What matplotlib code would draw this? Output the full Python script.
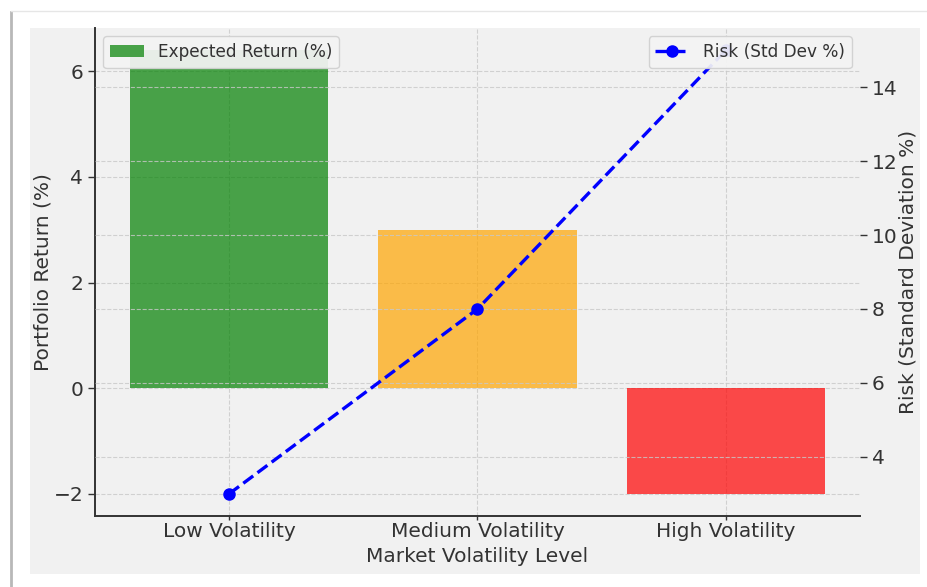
import matplotlib
matplotlib.use("Agg")
import matplotlib.pyplot as plt
from matplotlib.patches import Rectangle
from matplotlib.lines import Line2D

# Data
categories = ["Low Volatility", "Medium Volatility", "High Volatility"]
expected_return = [6.4, 3.0, -2.0]
risk_std = [3.0, 8.0, 15.0]
bar_colors = ["green", "orange", "red"]

W, H = 928, 587
fig = plt.figure(figsize=(W / 100, H / 100), dpi=100, facecolor="white")

# Panel background and frame edges
bg = "#f1f1f1"
fig.patches.append(Rectangle((30 / W, 1 - 574 / H), 890 / W, 546 / H,
                             transform=fig.transFigure, facecolor=bg,
                             edgecolor="none", zorder=-10))
fig.lines.append(Line2D([11 / W, 11 / W], [0, 1 - 12 / H], transform=fig.transFigure,
                        color="#b8b8b8", lw=2.0))
fig.lines.append(Line2D([11 / W, 1], [1 - 11 / H, 1 - 11 / H], transform=fig.transFigure,
                        color="#e6e6e6", lw=1.0))

ax1 = fig.add_axes([95 / W, 1 - 516 / H, 765 / W, 488 / H])
ax1.set_facecolor("none")

txt = "#333333"
fs = 14.5

x = list(range(len(categories)))
ax1.bar(x, expected_return, color=bar_colors, alpha=0.7, width=0.8,
        label="Expected Return (%)")
ax1.set_xticks(x)
ax1.set_xticklabels(categories)
ax1.set_xlabel("Market Volatility Level", fontsize=fs, color=txt, labelpad=5)
ax1.set_ylabel("Portfolio Return (%)", fontsize=fs, color=txt, labelpad=0.5)
ax1.grid(True, linestyle="--", color="#c8c8c8", linewidth=0.8, alpha=0.8)
ax1.set_axisbelow(True)

ax2 = ax1.twinx()
ax2.set_facecolor("none")
ax2.plot(x, risk_std, color="blue", linestyle="--", linewidth=2.4, marker="o",
         markersize=8, label="Risk (Std Dev %)")
ax2.set_ylabel("Risk (Standard Deviation %)", fontsize=fs, color=txt, labelpad=1)
ax2.grid(True, axis="y", linestyle="--", color="#c8c8c8", linewidth=0.8, alpha=0.8)

for ax in (ax1, ax2):
    ax.spines["top"].set_visible(False)
    ax.spines["right"].set_visible(False)
    ax.tick_params(labelsize=fs, colors=txt, length=5, width=1)
ax1.tick_params(axis="x", length=3, pad=1)
ax2.spines["left"].set_visible(False)
ax2.spines["bottom"].set_visible(False)
for s in ("left", "bottom"):
    ax1.spines[s].set_color(txt)
    ax1.spines[s].set_linewidth(1.4)

leg1 = ax1.legend(loc="upper left", fontsize=12.2, framealpha=0.93,
                  facecolor="#f4f4f4", edgecolor="#d0d0d0")
leg2 = ax2.legend(loc="upper right", fontsize=12.2, framealpha=0.93,
                  facecolor="#f4f4f4", edgecolor="#d0d0d0")
for leg in (leg1, leg2):
    for t in leg.get_texts():
        t.set_color(txt)

fig.savefig("out.png", dpi=100, facecolor="white")
